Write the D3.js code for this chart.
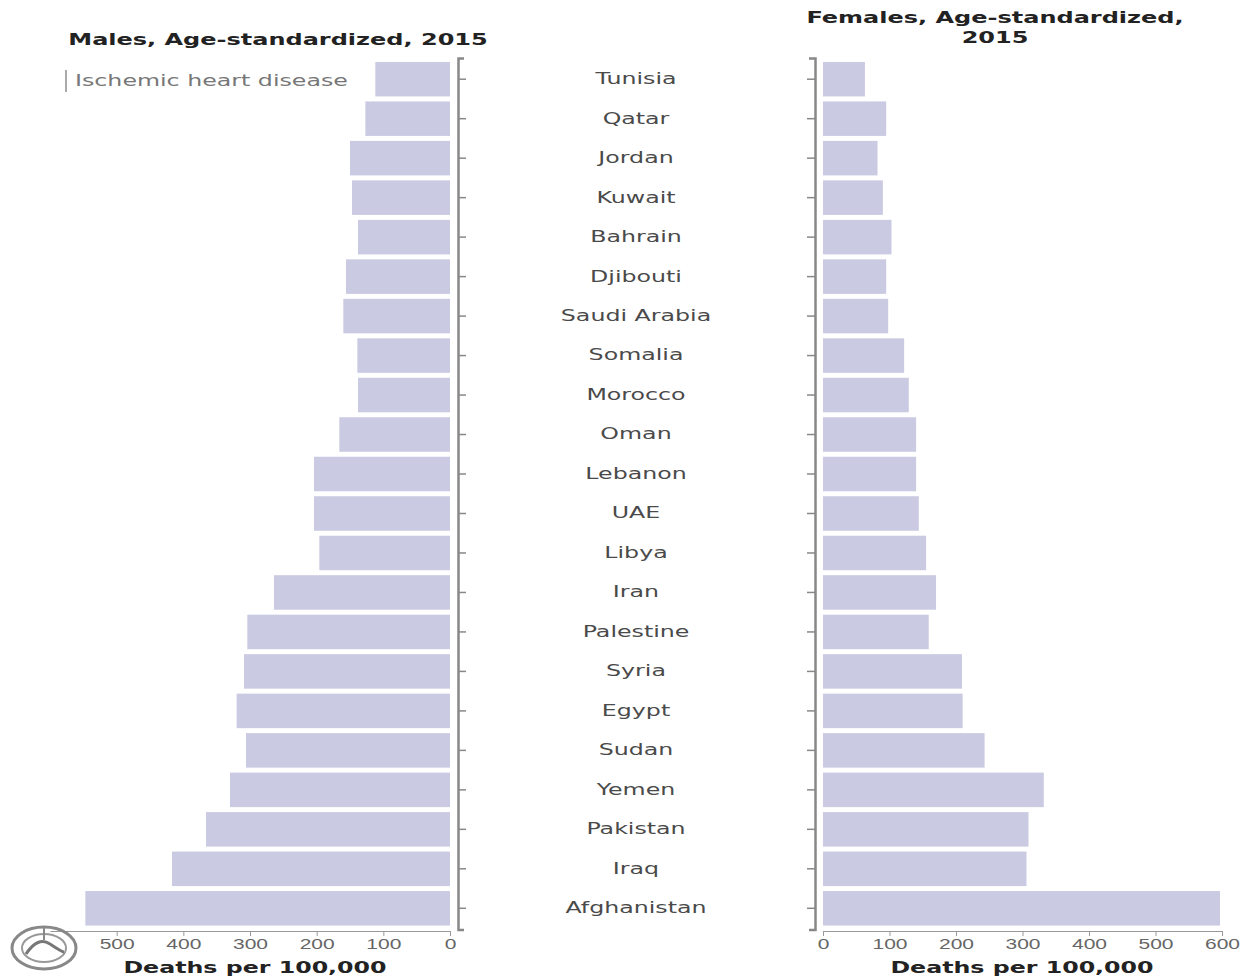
<!DOCTYPE html>
<html>
<head>
<meta charset="utf-8">
<script src="https://cdn.jsdelivr.net/npm/d3@7"></script>
<style>
  html, body { margin: 0; padding: 0; background: #fff; }
  svg { display: block; font-family: "DejaVu Sans", Verdana, sans-serif; }
</style>
</head>
<body>
<svg id="chart" width="1253" height="980"></svg>
<script>
const countries = ["Tunisia","Qatar","Jordan","Kuwait","Bahrain","Djibouti","Saudi Arabia","Somalia","Morocco","Oman","Lebanon","UAE","Libya","Iran","Palestine","Syria","Egypt","Sudan","Yemen","Pakistan","Iraq","Afghanistan"];
const males   = [112,127,150,147,138,156,160,139,138,166,204,204,196,264,304,309,320,306,330,366,417,547];
const females = [63,95,82,90,103,95,98,122,129,140,140,144,155,170,159,209,210,243,332,309,306,597];
const maleTicks = [0,100,200,300,400,500];
const femaleTicks = [0,100,200,300,400,500,600];
const maleTitle = "Males, Age-standardized, 2015";
const femaleTitle = ["Females, Age-standardized,", "2015"];
const legendLabel = "Ischemic heart disease";
const axisTitle = "Deaths per 100,000";

const SX = 1.58;          // horizontal stretch of the text
const barColor = "#cacae2";
const svg = d3.select("#chart");

const y = d3.scaleBand().domain(countries).range([58, 929.5]).paddingInner(0.126).paddingOuter(0.1);
const xM = d3.scaleLinear().domain([0, 600]).range([450, 50]);
const xF = d3.scaleLinear().domain([0, 600]).range([823, 1222]);

function stext(g, x, yy, str, o = {}) {
  return g.append("text")
    .attr("transform", `translate(${x},${yy}) scale(${o.sx || SX},1)`)
    .attr("text-anchor", o.anchor || "middle")
    .attr("dominant-baseline", "central")
    .style("font-size", (o.size || 15) + "px")
    .style("font-weight", o.bold ? "bold" : "normal")
    .attr("fill", o.fill || "#555")
    .text(str);
}

// Male bars
svg.append("g").selectAll("rect").data(countries).join("rect")
  .attr("x", (d, i) => xM(males[i]))
  .attr("y", d => y(d))
  .attr("width", (d, i) => xM(0) - xM(males[i]))
  .attr("height", y.bandwidth())
  .attr("fill", barColor);

// Female bars
svg.append("g").selectAll("rect").data(countries).join("rect")
  .attr("x", xF(0))
  .attr("y", d => y(d))
  .attr("width", (d, i) => xF(females[i]) - xF(0))
  .attr("height", y.bandwidth())
  .attr("fill", barColor);

// Vertical category axes
function styleAxis(g) {
  g.selectAll("path, line").attr("stroke", "#888");
  g.select(".domain").attr("stroke-width", 2.5);
  g.selectAll(".tick line").attr("stroke-width", 1.5);
}
const yAxL = svg.append("g").attr("transform", "translate(458,0)")
  .call(d3.axisRight(y).tickSize(8).tickSizeOuter(6).tickFormat(""));
styleAxis(yAxL);
const yAxR = svg.append("g").attr("transform", "translate(815,0)")
  .call(d3.axisLeft(y).tickSize(8).tickSizeOuter(6).tickFormat(""));
styleAxis(yAxR);

// Country labels
const lab = svg.append("g");
countries.forEach(c => stext(lab, 636, y(c) + y.bandwidth() / 2, c, { size: 15, fill: "#4a4a4a" }));

// Bottom value axes
function styleX(g) {
  g.selectAll("path, line").attr("stroke", "#999");
  g.selectAll("text")
    .attr("fill", "#666")
    .style("font-size", "14px")
    .attr("transform", `scale(1.5,1)`);
}
const xAxL = svg.append("g").attr("transform", "translate(0,931)")
  .call(d3.axisBottom(xM).tickValues(maleTicks).tickSize(5).tickSizeOuter(0).tickFormat(d3.format("d")));
styleX(xAxL);
const xAxR = svg.append("g").attr("transform", "translate(0,931)")
  .call(d3.axisBottom(xF).tickValues(femaleTicks).tickSize(5).tickSizeOuter(0).tickFormat(d3.format("d")));
styleX(xAxR);

// Titles
stext(svg, 278, 40, maleTitle, { bold: true, size: 15, fill: "#222", sx: 1.6 });
stext(svg, 995, 18, femaleTitle[0], { bold: true, size: 15, fill: "#222", sx: 1.6 });
stext(svg, 995, 38, femaleTitle[1], { bold: true, size: 15, fill: "#222", sx: 1.6 });
stext(svg, 255, 968, axisTitle, { bold: true, size: 15, fill: "#222", sx: 1.58 });
stext(svg, 1022, 968, axisTitle, { bold: true, size: 15, fill: "#222", sx: 1.58 });

// Legend
svg.append("line").attr("x1", 66).attr("x2", 66).attr("y1", 70).attr("y2", 92)
  .attr("stroke", "#aaa").attr("stroke-width", 2);
stext(svg, 75, 81, legendLabel, { anchor: "start", size: 15, fill: "#777" });

// Logo (simple emblem)
const logo = svg.append("g").attr("transform", "translate(44,948)");
logo.append("ellipse").attr("rx", 32).attr("ry", 21).attr("fill", "none").attr("stroke", "#888").attr("stroke-width", 3);
logo.append("ellipse").attr("rx", 22).attr("ry", 14).attr("fill", "none").attr("stroke", "#999").attr("stroke-width", 2);
logo.append("path").attr("d", "M-18,6 Q-6,-12 6,-4 T20,4").attr("fill", "none").attr("stroke", "#777").attr("stroke-width", 3);
logo.append("line").attr("x1", 0).attr("x2", 0).attr("y1", -20).attr("y2", -8).attr("stroke", "#888").attr("stroke-width", 2);
</script>
</body>
</html>
